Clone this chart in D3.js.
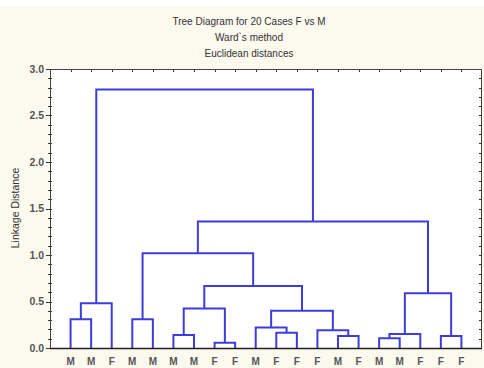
<!DOCTYPE html>
<html>
<head>
<meta charset="utf-8">
<script src="https://cdn.jsdelivr.net/npm/d3@7"></script>
<style>
  html, body { margin: 0; padding: 0; background: #fcf9ef; }
  svg { display: block; }
  text { font-family: "Liberation Sans", Arial, sans-serif; }
</style>
</head>
<body>
<svg id="chart" width="484" height="368"></svg>
<script>
// Leaf labels in dendrogram order (left to right)
const leafLabels = ["M","M","F","M","M","M","M","F","F","M",
                    "F","F","F","M","F","M","M","F","F","F"];

// Agglomeration steps: ids < 20 are leaves, id 20+k is the cluster made at step k
const mergeA = [7, 15, 13, 18, 5, 21, 10, 12, 9, 0, 3, 28, 24, 29, 25, 32, 30, 36, 33];
const mergeB = [8, 16, 14, 19, 6, 17, 11, 22, 26, 1, 4, 27, 20, 2, 23, 31, 35, 34, 37];
const mergeHeight = [0.057, 0.104, 0.13, 0.13, 0.14, 0.15, 0.164, 0.19, 0.22, 0.31,
                     0.31, 0.40, 0.425, 0.48, 0.59, 0.667, 1.02, 1.36, 2.78];

const titleLines = ["Tree Diagram for 20 Cases F vs M", "Ward`s method", "Euclidean distances"];
const yTicks = [0, 0.5, 1.0, 1.5, 2.0, 2.5, 3.0];
const yLabel = "Linkage Distance";

const svg = d3.select("#chart");
const W = 484, H = 368;
const plot = { left: 50, right: 482, top: 69, bottom: 348 };

svg.append("rect").attr("x", 0).attr("y", 0).attr("width", W).attr("height", 6).attr("fill", "#ffffff");

const x = d3.scalePoint()
  .domain(d3.range(leafLabels.length))
  .range([plot.left, plot.right])
  .padding(1);

const y = d3.scaleLinear().domain([0, 3]).range([plot.bottom, plot.top]);

// Plot background
svg.append("rect")
  .attr("x", plot.left).attr("y", plot.top)
  .attr("width", plot.right - plot.left).attr("height", plot.bottom - plot.top)
  .attr("fill", "#ffffff");

// Node positions
const nodeX = [], nodeH = [];
leafLabels.forEach((_, i) => { nodeX[i] = x(i); nodeH[i] = 0; });
mergeA.forEach((a, k) => {
  const b = mergeB[k], id = leafLabels.length + k;
  nodeX[id] = (nodeX[a] + nodeX[b]) / 2;
  nodeH[id] = mergeHeight[k];
});

// Dendrogram links
svg.append("g")
  .selectAll("path")
  .data(mergeA.map((a, k) => ({ a, b: mergeB[k], h: mergeHeight[k] })))
  .join("path")
  .attr("d", d => `M${nodeX[d.a]},${y(nodeH[d.a])}V${y(d.h)}H${nodeX[d.b]}V${y(nodeH[d.b])}`)
  .attr("fill", "none")
  .attr("stroke", "#3d3ddb")
  .attr("stroke-width", 2);

// Minor ticks on left and right edges
const minor = d3.range(0, 3.0001, 0.1);
const axisG = svg.append("g").attr("stroke", "#333").attr("stroke-width", 1);
axisG.selectAll("line.ml").data(minor).join("line")
  .attr("x1", plot.left - 2).attr("x2", plot.left + 2)
  .attr("y1", d => Math.round(y(d)) + 0.5).attr("y2", d => Math.round(y(d)) + 0.5);
axisG.selectAll("line.mr").data(minor).join("line")
  .attr("x1", plot.right - 3).attr("x2", plot.right)
  .attr("y1", d => Math.round(y(d)) + 0.5).attr("y2", d => Math.round(y(d)) + 0.5);
axisG.selectAll("line.mj").data(yTicks).join("line")
  .attr("x1", plot.left - 4).attr("x2", plot.left)
  .attr("y1", d => Math.round(y(d)) + 0.5).attr("y2", d => Math.round(y(d)) + 0.5);
// Top ticks at leaf positions
axisG.selectAll("line.tt").data(d3.range(leafLabels.length)).join("line")
  .attr("x1", d => Math.round(x(d)) + 0.5).attr("x2", d => Math.round(x(d)) + 0.5)
  .attr("y1", plot.top).attr("y2", plot.top + 3);

// Frame
svg.append("rect")
  .attr("x", plot.left + 0.5).attr("y", plot.top + 0.5)
  .attr("width", plot.right - plot.left - 1).attr("height", plot.bottom - plot.top)
  .attr("fill", "none").attr("stroke", "#444").attr("stroke-width", 1);
svg.append("line")
  .attr("x1", plot.left).attr("x2", plot.right)
  .attr("y1", plot.bottom + 0.5).attr("y2", plot.bottom + 0.5)
  .attr("stroke", "#222").attr("stroke-width", 1.5);

// Y tick labels
svg.append("g").selectAll("text").data(yTicks).join("text")
  .attr("x", 44).attr("y", d => y(d) + 3.8)
  .attr("text-anchor", "end")
  .attr("font-size", 10.5).attr("font-weight", "bold").attr("fill", "#555")
  .text(d => d3.format(".1f")(d));

// Leaf labels
svg.append("g").selectAll("text").data(leafLabels).join("text")
  .attr("x", (d, i) => x(i)).attr("y", 365)
  .attr("text-anchor", "middle")
  .attr("font-size", 10).attr("font-weight", "bold").attr("fill", "#555")
  .text(d => d);

// Y axis title
svg.append("text")
  .attr("transform", "translate(19,208) rotate(-90)")
  .attr("text-anchor", "middle")
  .attr("font-size", 10.5).attr("fill", "#333")
  .text(yLabel);

// Titles
svg.append("g").selectAll("text").data(titleLines).join("text")
  .attr("x", 249).attr("y", (d, i) => 25 + i * 16)
  .attr("text-anchor", "middle")
  .attr("font-size", 10).attr("fill", "#333")
  .text(d => d);
</script>
</body>
</html>
